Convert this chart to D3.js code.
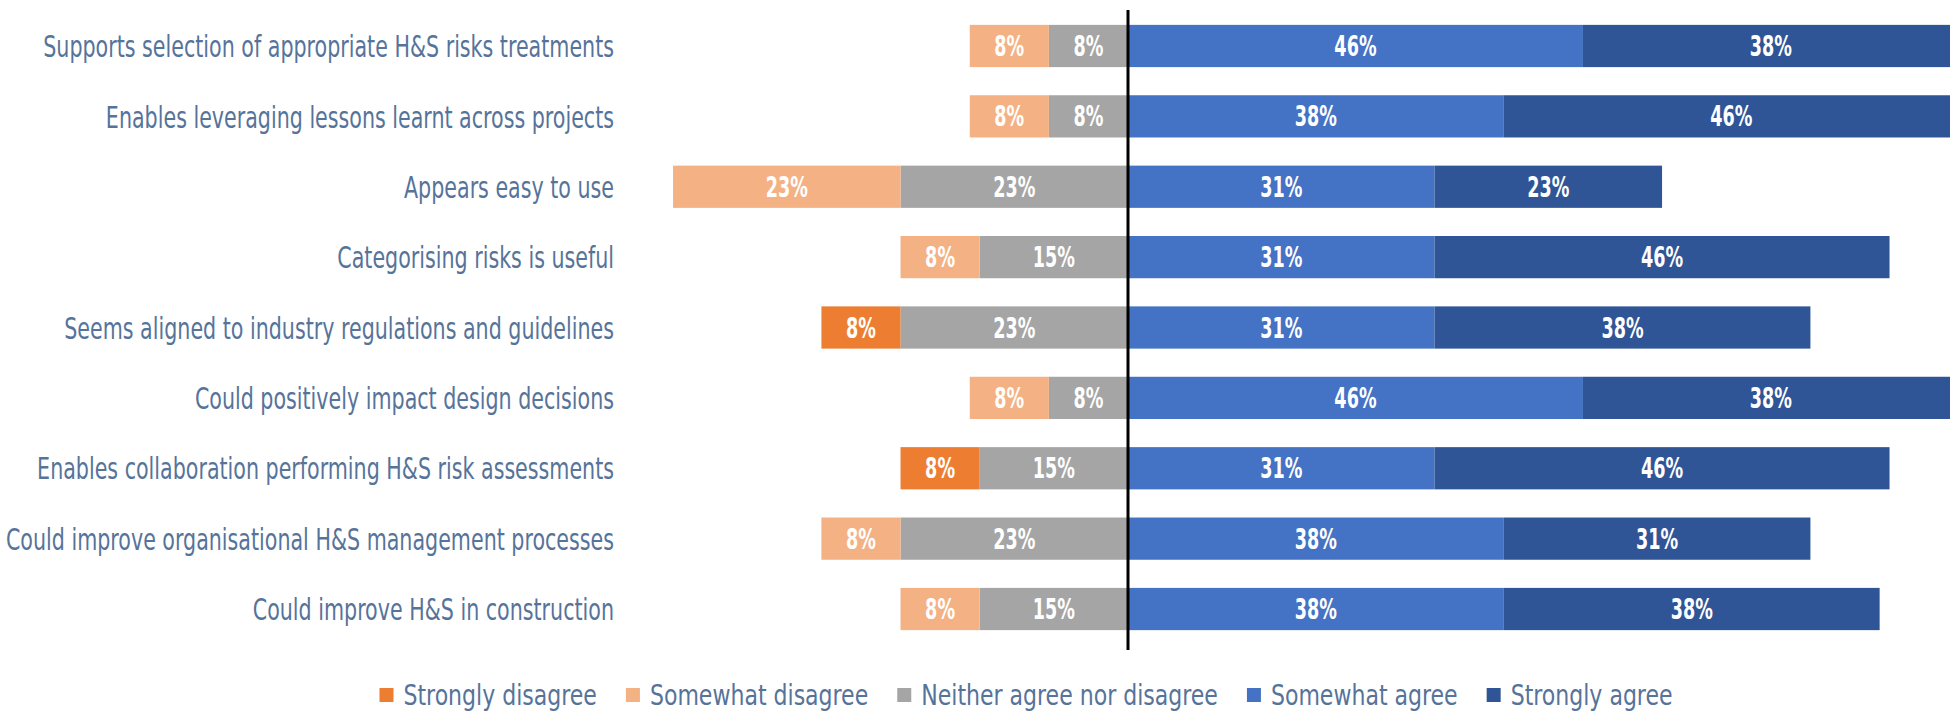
<!DOCTYPE html>
<html>
<head>
<meta charset="utf-8">
<script src="https://cdn.jsdelivr.net/npm/d3@7"></script>
<style>
  html, body { margin: 0; padding: 0; background: #ffffff; overflow: hidden; }
  svg { display: block; }
</style>
</head>
<body>
<svg id="chart" width="1950" height="712"></svg>
<script>
// Survey statements, top to bottom
const categories = [
  "Supports selection of appropriate H&S risks treatments",
  "Enables leveraging lessons learnt across projects",
  "Appears easy to use",
  "Categorising risks is useful",
  "Seems aligned to industry regulations and guidelines",
  "Could positively impact design decisions",
  "Enables collaboration performing H&S risk assessments",
  "Could improve organisational H&S management processes",
  "Could improve H&S in construction"
];

// Response shares (%) per statement
const stronglyDisagree = [0, 0, 0, 0, 8, 0, 8, 0, 0];
const somewhatDisagree = [8, 8, 23, 8, 0, 8, 0, 8, 8];
const neitherAgree     = [8, 8, 23, 15, 23, 8, 15, 23, 15];
const somewhatAgree    = [46, 38, 31, 31, 31, 46, 31, 38, 38];
const stronglyAgree    = [38, 46, 23, 46, 38, 38, 46, 31, 38];

const seriesNames = ["Strongly disagree", "Somewhat disagree", "Neither agree nor disagree", "Somewhat agree", "Strongly agree"];
const seriesColors = ["#ED7D31", "#F4B183", "#A5A5A5", "#4472C4", "#2F5597"];

const svg = d3.select("#chart");
const labelColor = "#56739A";
const fontStack = "'Liberation Sans Narrow', 'DejaVu Sans Condensed', 'Liberation Sans', sans-serif";
// horizontal squeeze to give the text a tall, condensed look
const catSqueeze = 0.74, valSqueeze = 0.7, legSqueeze = 0.845;

// Diverging axis: disagreement and neutral extend left of zero, agreement right
const x = d3.scaleLinear().domain([-60, 90]).range([534.6, 2018.1]);
const y = d3.scaleBand().domain(categories).range([10.8, 644.2]).paddingInner(0.4).paddingOuter(0.2);

// Build stacked segments per row
const segments = [];
categories.forEach((c, i) => {
  // left side: neutral nearest zero, then somewhat, then strongly disagree
  let left = 0;
  [[2, neitherAgree], [1, somewhatDisagree], [0, stronglyDisagree]].forEach(([s, arr]) => {
    const v = arr[i];
    if (v > 0) { segments.push({ cat: c, s, v, x0: left - v, x1: left }); left -= v; }
  });
  let right = 0;
  [[3, somewhatAgree], [4, stronglyAgree]].forEach(([s, arr]) => {
    const v = arr[i];
    if (v > 0) { segments.push({ cat: c, s, v, x0: right, x1: right + v }); right += v; }
  });
});

const g = svg.append("g");
g.selectAll("rect.seg").data(segments).join("rect")
  .attr("class", "seg")
  .attr("x", d => x(d.x0))
  .attr("width", d => x(d.x1) - x(d.x0))
  .attr("y", d => y(d.cat))
  .attr("height", y.bandwidth())
  .attr("fill", d => seriesColors[d.s]);

// Value labels
g.selectAll("text.val").data(segments).join("text")
  .attr("class", "val")
  .attr("transform", d => `translate(${(x(d.x0) + x(d.x1)) / 2},${y(d.cat) + y.bandwidth() / 2}) scale(${valSqueeze},1)`)
  .attr("dy", "0.36em")
  .attr("text-anchor", "middle")
  .attr("font-family", fontStack)
  .attr("font-weight", "bold")
  .attr("font-size", 28)
  .attr("fill", "#ffffff")
  .text(d => d.v + "%");

// Category labels
g.selectAll("text.cat").data(categories).join("text")
  .attr("class", "cat")
  .attr("transform", d => `translate(614,${y(d) + y.bandwidth() / 2}) scale(${catSqueeze},1)`)
  .attr("dy", "0.36em")
  .attr("text-anchor", "end")
  .attr("font-family", fontStack)
  .attr("font-size", 31)
  .attr("fill", labelColor)
  .text(d => d);

// Zero line
svg.append("line")
  .attr("x1", x(0)).attr("x2", x(0))
  .attr("y1", 10).attr("y2", 650)
  .attr("stroke", "#000").attr("stroke-width", 3);

// Legend, centred as a row below the plot
const legend = svg.append("g");
const items = seriesNames.map((name, i) => {
  const item = legend.append("g");
  item.append("rect").attr("x", 0).attr("y", 688).attr("width", 14).attr("height", 14)
    .attr("fill", seriesColors[i]);
  const t = item.append("text")
    .attr("transform", `translate(24,695) scale(${legSqueeze},1)`)
    .attr("dy", "0.36em")
    .attr("font-family", fontStack).attr("font-size", 29).attr("fill", labelColor)
    .text(name);
  return { item, w: 24 + t.node().getComputedTextLength() * legSqueeze };
});
const gap = 29;
const total = d3.sum(items, d => d.w) + gap * (items.length - 1);
let lx = 1026 - total / 2;
items.forEach(d => { d.item.attr("transform", `translate(${lx},0)`); lx += d.w + gap; });
</script>
</body>
</html>
